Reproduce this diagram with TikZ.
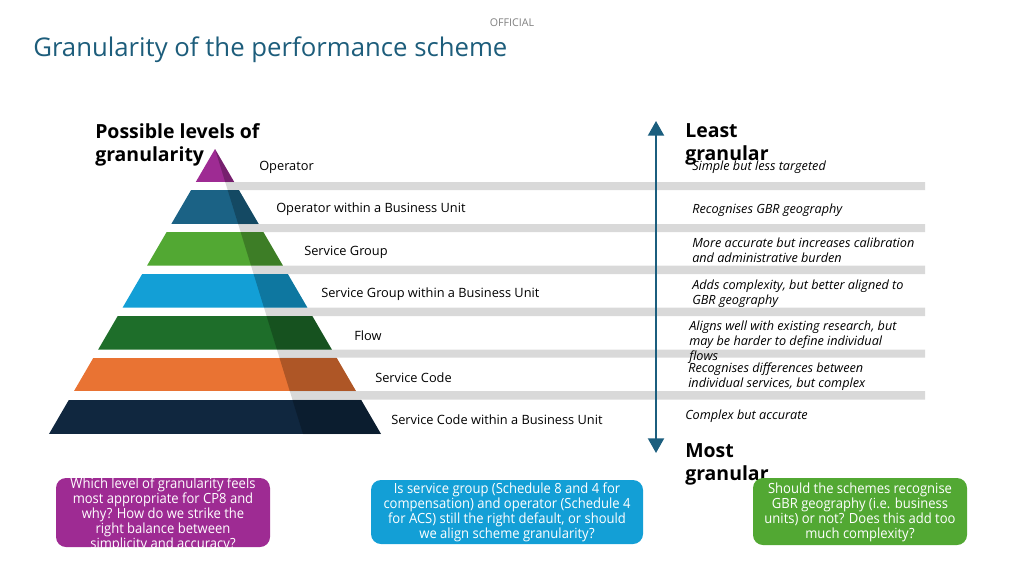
\documentclass[tikz,border=0pt]{standalone}
\usepackage{fontspec}
\setmainfont{Open Sans}
\newfontfamily\condfont[FakeStretch=0.93]{Open Sans}
\usetikzlibrary{arrows.meta}
\definecolor{lvpurple}{HTML}{9E2B93}
\definecolor{lvteal}{HTML}{1B6285}
\definecolor{lvgreen}{HTML}{52A833}
\definecolor{lvsky}{HTML}{139FD6}
\definecolor{lvforest}{HTML}{1E6E2A}
\definecolor{lvorange}{HTML}{E97333}
\definecolor{lvnavy}{HTML}{10273F}
\definecolor{gapgray}{HTML}{D9D9D9}
\definecolor{titleblue}{HTML}{1D5D7B}
\definecolor{arrowblue}{HTML}{1B5E7E}
\begin{document}
\begin{tikzpicture}[x=0.75pt, y=-0.75pt,
  lvl/.style={anchor=west, inner sep=0pt, font=\fontsize{9.6}{11}\selectfont},
  note/.style={anchor=west, align=left, inner sep=0pt, font=\fontsize{9.5}{11.25}\selectfont\itshape},
  head/.style={anchor=west, align=left, inner sep=0pt, font=\fontsize{14.6}{17.3}\selectfont\bfseries},
  qbox/.style={rounded corners=7.5pt, inner sep=0pt, minimum width=160.5pt},
  qtext/.style={align=center, text=white, inner sep=0pt, font=\condfont\fontsize{10.5}{11.25}\selectfont}]
  \useasboundingbox (0,0) rectangle (1024,575);
  \def\slope{0.5825}
  \def\shade{0.309}
  % header
  \node[inner sep=0pt, text=black!50, font=\fontsize{8}{9}\selectfont] (official) at (512,23) {OFFICIAL};
  \node[anchor=west, inner sep=0pt, text=titleblue, font=\fontsize{19.3}{22}\selectfont] (title) at (33,50) {Granularity of the performance scheme};
  % grey bands between the levels
  \foreach \b/\t in {182/190, 224/232, 265.5/274, 307.5/316, 349.5/357.5, 391/399.5}
    \fill[gapgray] ({215+\shade*(\b-149)},\b) -- ({215+\shade*(\t-149)},\t) -- (925,\t) -- (925,\b) -- cycle;
  % pyramid
  \foreach \t/\b/\c in {149/182/lvpurple, 190/224/lvteal, 232/265.5/lvgreen, 274/307.5/lvsky,
                         316/349.5/lvforest, 357.5/391/lvorange, 399.5/434/lvnavy} {
    \begin{scope}
      \clip ({215-\slope*(\t-149)},\t) -- ({215+\slope*(\t-149)},\t) -- ({215+\slope*(\b-149)},\b) -- ({215-\slope*(\b-149)},\b) -- cycle;
      \fill[\c] (40,\t) rectangle (400,\b);
      \fill[black, opacity=.25] (215,149) -- (303,434) -- (400,434) -- (400,149) -- cycle;
    \end{scope}
  }
  \node[head] (levels) at (95,144.5) {Possible levels of\\granularity};
  \node[lvl] (op) at (259,167) {Operator};
  \node[lvl] (opbu) at (276,209.5) {Operator within a Business Unit};
  \node[lvl] (sg) at (304,252) {Service Group};
  \node[lvl] (sgbu) at (321,294) {Service Group within a Business Unit};
  \node[lvl] (flow) at (354,336) {Flow};
  \node[lvl] (sc) at (375,378) {Service Code};
  \node[lvl] (scbu) at (391,420) {Service Code within a Business Unit};
  % scale arrow
  \coordinate (hi) at (656,121);
  \coordinate (lo) at (656,453);
  \draw[arrowblue, line width=1.5pt, {Triangle[width=12pt,length=11pt]}-{Triangle[width=12pt,length=11pt]}] (hi) -- (lo);
  \node[head] (least) at (685,144.5) {Least\\granular};
  \node[head] (most) at (685,464.5) {Most\\granular};
  % comments per level
  \node[note] (n1) at (692,167) {Simple but less targeted};
  \node[note] (n2) at (692,210) {Recognises GBR geography};
  \node[note] (n3) at (692,250.5) {More accurate but increases calibration\\and administrative burden};
  \node[note] (n4) at (692,293.5) {Adds complexity, but better aligned to\\GBR geography};
  \node[note] (n5) at (689,342) {Aligns well with existing research, but\\may be harder to define individual\\flows};
  \node[note] (n6) at (688,376.5) {Recognises differences between\\individual services, but complex};
  \node[note] (n7) at (685,416) {Complex but accurate};
  % questions
  \node[qbox, fill=lvpurple, minimum height=51.75pt] (q1) at (163,512.5) {};
  \node[qtext] (q1t) at (163,515) {Which level of granularity feels\\most appropriate for CP8 and\\why? How do we strike the\\right balance between\\simplicity and accuracy?};
  \node[qbox, fill=lvsky, minimum width=204pt, minimum height=48pt] (q2) at (507,512) {};
  \node[qtext] (q2t) at (507,512) {Is service group (Schedule 8 and 4 for\\compensation) and operator (Schedule 4\\for ACS) still the right default, or should\\we align scheme granularity?};
  \node[qbox, fill=lvgreen, minimum height=50.25pt] (q3) at (860,511.5) {};
  \node[qtext] (q3t) at (860,512.5) {Should the schemes recognise\\GBR geography (i.e. business\\units) or not? Does this add too\\much complexity?};
\end{tikzpicture}
\end{document}
